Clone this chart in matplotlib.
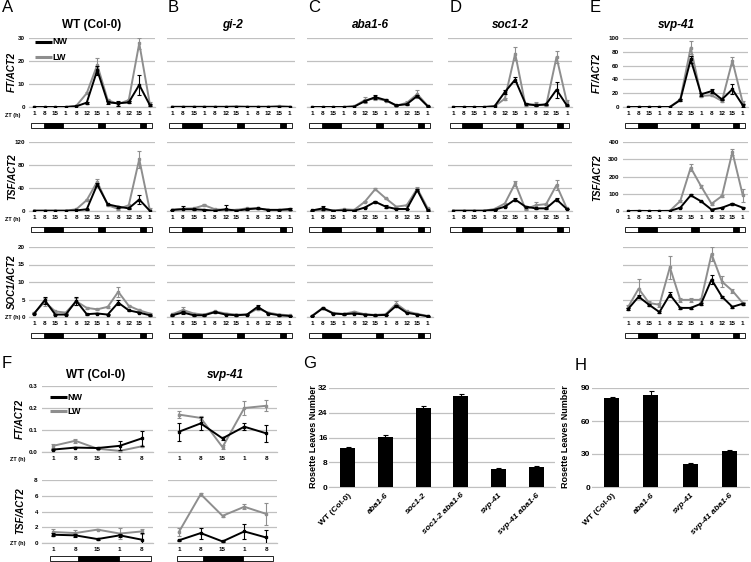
import numpy as np
import matplotlib
matplotlib.use('Agg')
import matplotlib.pyplot as plt
from matplotlib.patches import Rectangle
from matplotlib.lines import Line2D

plt.rcParams['font.family'] = ['Liberation Sans', 'DejaVu Sans']
plt.rcParams['font.weight'] = 'bold'

GREY = '#8E8E8E'
GRID = '#C0C0C0'

# ---- data ----
ZT = ['1', '8', '15', '1', '8', '12', '15', '1', '8', '12', '15', '1']
ZT_F = ['1', '8', '15', '1', '8']

# A  WT (Col-0)
A_FT_NW = [0, 0, 0, 0, 0.3, 1.9, 16, 2.0, 1.6, 2.0, 9.6, 0.9]
A_FT_NW_ERR = [0, 0, 0, 0, 0, 0.4, 2, 0.5, 1.2, 0.4, 4.3, 0.3]
A_FT_LW = [0, 0, 0, 0, 0.5, 6, 18.3, 3, 1.3, 3, 27.7, 1.5]
A_FT_LW_ERR = [0, 0, 0, 0, 0, 0.5, 3, 0.5, 0.8, 0.5, 2.5, 0.5]
A_TSF_NW = [0.5, 0.5, 0.5, 0.5, 1, 3, 46, 11.6, 7.5, 4.6, 20, 0.5]
A_TSF_NW_ERR = [0, 0, 0, 0, 0, 0.5, 3, 1, 1.5, 0.5, 8, 0]
A_TSF_LW = [0.5, 0.5, 0.5, 0.5, 3, 19, 51, 10, 3.5, 10, 90, 2]
A_TSF_LW_ERR = [0, 0, 0, 0, 0, 1.5, 4, 1, 1, 1, 15, 3]
A_SOC_NW = [1.0, 4.8, 0.7, 0.7, 4.6, 0.8, 1.0, 0.7, 4.1, 1.9, 1.25, 0.5]
A_SOC_NW_ERR = [0.2, 1.0, 0.1, 0.1, 1.2, 0.1, 0.1, 0.1, 0.8, 0.2, 0.2, 0.1]
A_SOC_LW = [1.15, 4.3, 1.6, 1.25, 4.5, 2.6, 2.2, 2.9, 7.2, 3.2, 1.9, 1.0]
A_SOC_LW_ERR = [0.2, 1.2, 0.2, 0.2, 1.0, 0.2, 0.2, 0.3, 1.5, 0.3, 0.3, 0.1]

# B  gi-2
B_FT_NW = [0.05, 0.05, 0.05, 0.05, 0.05, 0.05, 0.1, 0.05, 0.05, 0.05, 0.1, 0.05]
B_FT_NW_ERR = [0, 0, 0, 0, 0, 0, 0, 0, 0, 0, 0, 0]
B_FT_LW = [0.1, 0.1, 0.1, 0.1, 0.1, 0.1, 0.2, 0.1, 0.1, 0.1, 0.4, 0.1]
B_FT_LW_ERR = [0, 0, 0, 0, 0, 0, 0, 0, 0, 0, 0.2, 0]
B_TSF_NW = [2, 3, 3, 2, 0.5, 3, 0.5, 3, 4.6, 2, 2, 3.5]
B_TSF_NW_ERR = [0.5, 6, 1, 0.5, 0.5, 8, 0.5, 1, 1, 0.5, 0.5, 2]
B_TSF_LW = [2, 4, 4.6, 10, 3, 2, 2, 4.6, 4.6, 2, 0.5, 2]
B_TSF_LW_ERR = [0.5, 1, 1, 2, 0.5, 0.5, 0.5, 1, 1, 0.5, 0.5, 0.5]
B_SOC_NW = [0.5, 1.3, 0.5, 0.5, 1.4, 0.7, 0.5, 0.7, 2.9, 1.0, 0.5, 0.3]
B_SOC_NW_ERR = [0.1, 0.5, 0.1, 0.1, 0.2, 0.1, 0.1, 0.1, 0.5, 0.1, 0.1, 0.1]
B_SOC_LW = [0.8, 2.0, 1.0, 0.7, 1.6, 1.0, 0.7, 0.7, 2.4, 1.25, 0.7, 0.5]
B_SOC_LW_ERR = [0.1, 0.8, 0.2, 0.1, 0.2, 0.1, 0.1, 0.1, 0.3, 0.1, 0.1, 0.1]

# C  aba1-6
C_FT_NW = [0, 0, 0, 0, 0.2, 2.5, 4.3, 3.0, 0.7, 1.2, 4.8, 0.3]
C_FT_NW_ERR = [0, 0, 0, 0, 0, 0.4, 0.8, 0.3, 0.2, 0.2, 0.6, 0.1]
C_FT_LW = [0, 0, 0, 0, 0.3, 3.0, 3.7, 2.8, 0.6, 1.8, 5.6, 0.5]
C_FT_LW_ERR = [0, 0, 0, 0, 0, 1.3, 0.6, 0.3, 0.2, 0.6, 1.6, 0.1]
C_TSF_NW = [1, 4.6, 0.5, 1, 0.5, 6, 16, 7.5, 3.5, 3.5, 36.5, 1]
C_TSF_NW_ERR = [0.3, 3.5, 0.2, 0.3, 0.2, 0.5, 2, 3, 0.5, 0.5, 2, 0.2]
C_TSF_LW = [0.5, 2, 0.5, 3, 2, 16, 38, 22, 7.5, 10, 39, 4.6]
C_TSF_LW_ERR = [0.2, 0.5, 0.2, 0.5, 0.3, 1, 2, 1, 1, 1, 3, 0.5]
C_SOC_NW = [0.3, 2.5, 1.0, 0.8, 1.0, 0.7, 0.5, 0.6, 3.2, 1.2, 0.7, 0.2]
C_SOC_NW_ERR = [0.1, 0.2, 0.1, 0.1, 0.1, 0.1, 0.1, 0.1, 0.3, 0.1, 0.1, 0.1]
C_SOC_LW = [0.4, 2.6, 1.1, 0.9, 1.5, 0.8, 0.6, 0.8, 3.8, 1.6, 0.9, 0.3]
C_SOC_LW_ERR = [0.1, 0.2, 0.1, 0.1, 0.2, 0.1, 0.1, 0.1, 0.7, 0.1, 0.1, 0.1]

# D  soc1-2
D_FT_NW = [0, 0, 0, 0, 0.3, 6.5, 11.9, 1.4, 0.7, 1.2, 7.5, 0.7]
D_FT_NW_ERR = [0, 0, 0, 0, 0, 1.0, 1.0, 0.3, 0.2, 0.2, 3.4, 0.2]
D_FT_LW = [0, 0, 0, 0, 0.3, 3.6, 23.2, 0.7, 1.2, 0.7, 21.7, 2.2]
D_FT_LW_ERR = [0, 0, 0, 0, 0, 0.5, 2.8, 0.2, 0.8, 0.2, 2.5, 1.0]
D_TSF_NW = [0.5, 0.5, 0.5, 0.5, 2, 7.5, 20, 7.5, 4.6, 4.6, 20, 3.5]
D_TSF_NW_ERR = [0, 0, 0, 0, 0.3, 1, 3, 1, 0.5, 0.5, 2, 0.5]
D_TSF_LW = [0.5, 0.5, 0.5, 0.5, 3.5, 13, 48, 3, 10, 12, 45, 4.6]
D_TSF_LW_ERR = [0, 0, 0, 0, 0.5, 1, 5, 0.5, 5, 1, 9, 1]

# E  svp-41
E_FT_NW = [0, 0, 0, 0, 0, 10, 69, 18.4, 23, 11, 25.7, 2.4]
E_FT_NW_ERR = [0, 0, 0, 0, 0, 1, 5, 2, 3, 1, 7, 2]
E_FT_LW = [0, 0, 0, 0, 0, 11, 86, 16, 17, 8.7, 67, 6]
E_FT_LW_ERR = [0, 0, 0, 0, 0, 1, 9, 1.5, 1.5, 1, 6, 3]
E_TSF_NW = [0, 0, 0, 0, 0.5, 19, 91, 56, 8, 19, 42, 19]
E_TSF_NW_ERR = [0, 0, 0, 0, 0, 2, 5, 4, 2, 2, 5, 3]
E_TSF_LW = [0, 1.5, 0, 0.5, 1, 58, 251, 143, 42, 87, 342, 91]
E_TSF_LW_ERR = [0, 1, 0, 0, 0, 3, 20, 10, 5, 5, 18, 38]
E_SOC_NW = [2.3, 5.8, 3.5, 1.4, 6.4, 2.6, 2.6, 3.8, 10.7, 5.8, 2.9, 3.8]
E_SOC_NW_ERR = [0.3, 0.5, 0.3, 0.3, 0.7, 0.3, 0.3, 0.3, 1.3, 0.3, 0.3, 0.3]
E_SOC_LW = [2.9, 8.1, 4.0, 3.5, 14.2, 4.9, 4.9, 4.9, 18.0, 10.1, 7.5, 4.0]
E_SOC_LW_ERR = [0.4, 2.7, 0.5, 0.5, 3.3, 0.5, 0.5, 0.5, 2.0, 1.5, 0.5, 0.3]

# F  short time course
F_WT_FT_NW = [0.011, 0.02, 0.018, 0.028, 0.062]
F_WT_FT_NW_ERR = [0.003, 0.004, 0.003, 0.02, 0.033]
F_WT_FT_LW = [0.028, 0.051, 0.015, 0.005, 0.026]
F_WT_FT_LW_ERR = [0.008, 0.009, 0.003, 0.003, 0.003]
F_SVP_FT_NW = [0.092, 0.13, 0.062, 0.115, 0.085]
F_SVP_FT_NW_ERR = [0.04, 0.03, 0.006, 0.015, 0.04]
F_SVP_FT_LW = [0.17, 0.155, 0.022, 0.2, 0.21]
F_SVP_FT_LW_ERR = [0.015, 0.01, 0.008, 0.03, 0.025]
F_WT_TSF_NW = [1.05, 0.97, 0.5, 0.97, 0.42]
F_WT_TSF_NW_ERR = [0.2, 0.2, 0.1, 0.2, 0.8]
F_WT_TSF_LW = [1.4, 1.26, 1.7, 1.2, 1.47]
F_WT_TSF_LW_ERR = [0.4, 0.4, 0.1, 0.7, 0.3]
F_SVP_TSF_NW = [0.34, 1.26, 0.2, 1.47, 0.7]
F_SVP_TSF_NW_ERR = [0.05, 0.7, 0.05, 0.9, 1.0]
F_SVP_TSF_LW = [1.4, 6.2, 3.45, 4.6, 3.7]
F_SVP_TSF_LW_ERR = [0.5, 0.2, 0.1, 0.3, 1.4]

# G / H  flowering time
G_LINES = ['WT (Col-0)', 'aba1-6', 'soc1-2', 'soc1-2 aba1-6', 'svp-41', 'svp-41 aba1-6']
G_LEAVES = [12.5, 16.3, 25.5, 29.5, 5.7, 6.4]
G_ERR = [0.5, 0.4, 0.8, 0.6, 0.3, 0.3]
H_LINES = ['WT (Col-0)', 'aba1-6', 'svp-41', 'svp-41 aba1-6']
H_LEAVES = [81, 84, 20.5, 32.5]
H_ERR = [1, 3, 1, 1.2]

# ---- layout helpers (pixel coordinates, origin top-left) ----
W, H = 751, 562
fig = plt.figure(figsize=(W / 100, H / 100), dpi=100)


def box(l, t, r, b):
    return fig.add_axes([l / W, 1 - b / H, (r - l) / W, (b - t) / H])


def ftext(x, y, s, **kw):
    fig.text(x / W, 1 - y / H, s, **kw)


def fline(x0, x1, y, color):
    fig.add_artist(Line2D([x0 / W, x1 / W], [1 - y / H, 1 - y / H], color=color,
                          lw=2.2, solid_capstyle='butt'))


def series(ax, vals, errs, color, z):
    x = np.arange(len(vals))
    ax.plot(x, vals, color=color, lw=1.4, marker='s', ms=1.8, zorder=z)
    e = np.array(errs, dtype=float)
    m = e > 0
    if m.any():
        ax.errorbar(x[m], np.array(vals)[m], yerr=e[m], fmt='none', ecolor=color,
                    elinewidth=0.8, capsize=1.3, capthick=0.8, zorder=z)


def timecourse(l, t, r, b, nw, nw_e, lw, lw_e, ymax, step, ylabels=True,
               fmt='{:g}', labels=ZT):
    ax = box(l, t, r, b)
    series(ax, lw, lw_e, GREY, 3)
    series(ax, nw, nw_e, 'black', 4)
    n = len(nw)
    ax.set_xlim(-0.5, n - 0.5)
    ax.set_ylim(0, ymax)
    ticks = np.arange(0, ymax + step / 2, step)
    ax.set_yticks(ticks)
    ax.set_yticklabels([fmt.format(v) for v in ticks] if ylabels else [])
    ax.set_xticks(np.arange(n))
    ax.set_xticklabels(labels)
    ax.grid(axis='y', color=GRID, lw=0.9)
    ax.set_axisbelow(True)
    for s in ('top', 'right', 'left'):
        ax.spines[s].set_visible(False)
    ax.spines['bottom'].set_color(GRID)
    ax.spines['bottom'].set_linewidth(0.9)
    ax.tick_params(length=0, labelsize=4.5, pad=3)
    return ax


def daynight(l, r, top, n, start, end, nights):
    bx = box(l, top, r, top + 5)
    bx.set_xlim(-0.5, n - 0.5)
    bx.set_ylim(0, 1)
    bx.axis('off')
    bx.add_patch(Rectangle((start, 0), end - start, 1, facecolor='white',
                           edgecolor='black', lw=0.6, clip_on=False))
    for a, z in nights:
        bx.add_patch(Rectangle((a, 0), z - a, 1, facecolor='black',
                               edgecolor='black', lw=0.6, clip_on=False))


NIGHTS = [(0.9, 2.75), (6.05, 6.75), (10.05, 10.65)]
NIGHTS_F = [(1.1, 2.95)]

cols = {'A': (29, 155), 'B': (167, 295), 'C': (307, 433), 'D': (448, 572), 'E': (623, 748)}
rows = {'FT': (38, 107), 'TSF': (142, 211), 'SOC': (247, 317)}

panels = {
    'A': [('FT', A_FT_NW, A_FT_NW_ERR, A_FT_LW, A_FT_LW_ERR, 30, 10, True),
          ('TSF', A_TSF_NW, A_TSF_NW_ERR, A_TSF_LW, A_TSF_LW_ERR, 120, 40, True),
          ('SOC', A_SOC_NW, A_SOC_NW_ERR, A_SOC_LW, A_SOC_LW_ERR, 20, 5, True)],
    'B': [('FT', B_FT_NW, B_FT_NW_ERR, B_FT_LW, B_FT_LW_ERR, 30, 10, False),
          ('TSF', B_TSF_NW, B_TSF_NW_ERR, B_TSF_LW, B_TSF_LW_ERR, 120, 40, False),
          ('SOC', B_SOC_NW, B_SOC_NW_ERR, B_SOC_LW, B_SOC_LW_ERR, 20, 5, False)],
    'C': [('FT', C_FT_NW, C_FT_NW_ERR, C_FT_LW, C_FT_LW_ERR, 30, 10, False),
          ('TSF', C_TSF_NW, C_TSF_NW_ERR, C_TSF_LW, C_TSF_LW_ERR, 120, 40, False),
          ('SOC', C_SOC_NW, C_SOC_NW_ERR, C_SOC_LW, C_SOC_LW_ERR, 20, 5, False)],
    'D': [('FT', D_FT_NW, D_FT_NW_ERR, D_FT_LW, D_FT_LW_ERR, 30, 10, False),
          ('TSF', D_TSF_NW, D_TSF_NW_ERR, D_TSF_LW, D_TSF_LW_ERR, 120, 40, False)],
    'E': [('FT', E_FT_NW, E_FT_NW_ERR, E_FT_LW, E_FT_LW_ERR, 100, 20, True),
          ('TSF', E_TSF_NW, E_TSF_NW_ERR, E_TSF_LW, E_TSF_LW_ERR, 400, 100, True),
          ('SOC', E_SOC_NW, E_SOC_NW_ERR, E_SOC_LW, E_SOC_LW_ERR, 20, 5, False)],
}

for key, plist in panels.items():
    l, r = cols[key]
    for row, nw, nwe, lw, lwe, ymax, step, yl in plist:
        t, b = rows[row]
        timecourse(l, t, r, b, nw, nwe, lw, lwe, ymax, step, ylabels=yl)
        daynight(l, r, b + 16, 12, -0.32, 11.25, NIGHTS)

# titles and letters for A-E
titles = [('A', 2, 92, 'WT (Col-0)', 'normal'), ('B', 168, 232, 'gi-2', 'italic'),
          ('C', 308, 370, 'aba1-6', 'italic'), ('D', 450, 510, 'soc1-2', 'italic'),
          ('E', 590, 676, 'svp-41', 'italic')]
for letter, lx, tx, title, style in titles:
    ftext(lx, 8, letter, fontsize=12, fontweight='normal', va='center', ha='left')
    ftext(tx, 25, title, fontsize=8.5, style=style, va='center', ha='center')

# y labels
for x, y, s in [(12, 72, 'FT/ACT2'), (12, 177, 'TSF/ACT2'), (12, 282, 'SOC1/ACT2'),
                (597, 73, 'FT/ACT2'), (597, 178, 'TSF/ACT2'),
                (20, 419, 'FT/ACT2'), (20, 511, 'TSF/ACT2')]:
    ftext(x, y, s, fontsize=7, style='italic', rotation=90, va='center', ha='center')

for y in (115, 219, 317, 460, 543):
    ftext(13 if y < 400 else 18, y, 'ZT (h)', fontsize=4, va='center', ha='center')

# legend A
fline(35, 52, 42, 'black')
ftext(52, 42, 'NW', fontsize=6.5, va='center', ha='left')
fline(35, 52, 57, GREY)
ftext(52, 57, 'LW', fontsize=6.5, va='center', ha='left')

# ---- F ----
ftext(2, 363, 'F', fontsize=12, fontweight='normal', va='center', ha='left')
ftext(96, 375, 'WT (Col-0)', fontsize=8.5, va='center', ha='center')
ftext(225, 375, 'svp-41', fontsize=8.5, style='italic', va='center', ha='center')

timecourse(42, 386, 153, 452, F_WT_FT_NW, F_WT_FT_NW_ERR, F_WT_FT_LW, F_WT_FT_LW_ERR,
           0.3, 0.1, fmt='{:.1f}', labels=ZT_F)
timecourse(168, 386, 277, 452, F_SVP_FT_NW, F_SVP_FT_NW_ERR, F_SVP_FT_LW, F_SVP_FT_LW_ERR,
           0.3, 0.1, ylabels=False, labels=ZT_F)
timecourse(42, 480, 153, 543, F_WT_TSF_NW, F_WT_TSF_NW_ERR, F_WT_TSF_LW, F_WT_TSF_LW_ERR,
           8, 2, labels=ZT_F)
timecourse(168, 480, 277, 543, F_SVP_TSF_NW, F_SVP_TSF_NW_ERR, F_SVP_TSF_LW, F_SVP_TSF_LW_ERR,
           8, 2, ylabels=False, labels=ZT_F)
daynight(42, 153, 556, 5, -0.12, 4.4, NIGHTS_F)
daynight(168, 277, 556, 5, -0.1, 4.3, NIGHTS_F)

fline(50, 67, 397, 'black')
ftext(67, 397, 'NW', fontsize=6.5, va='center', ha='left')
fline(50, 67, 411, GREY)
ftext(67, 411, 'LW', fontsize=6.5, va='center', ha='left')


# ---- G / H ----
def leafbars(l, t, r, b, names, vals, errs, ymax, step, width):
    ax = box(l, t, r, b)
    x = np.arange(len(vals))
    ax.bar(x, vals, width=width, color='black', zorder=3)
    ax.errorbar(x, vals, yerr=errs, fmt='none', ecolor='black', elinewidth=0.8,
                capsize=1.8, capthick=0.8, zorder=4)
    ax.set_xlim(-0.5, len(vals) - 0.5)
    ax.set_ylim(0, ymax)
    ax.set_yticks(np.arange(0, ymax + step / 2, step))
    ax.grid(axis='y', color=GRID, lw=0.9)
    ax.set_axisbelow(True)
    for s in ('top', 'right', 'left'):
        ax.spines[s].set_visible(False)
    ax.spines['bottom'].set_color(GRID)
    ax.tick_params(axis='y', length=0, labelsize=6, pad=1)
    ax.tick_params(axis='x', length=0, labelsize=6, pad=3.5)
    ax.set_xticks(x)
    ax.set_xticklabels(names, rotation=45, ha='right', rotation_mode='anchor', fontsize=6)
    for lab in ax.get_xticklabels():
        if not lab.get_text().startswith('WT'):
            lab.set_style('italic')
    return ax


ftext(303, 364, 'G', fontsize=12, fontweight='normal', va='center', ha='left')
leafbars(329, 388, 555, 487, G_LINES, G_LEAVES, G_ERR, 32, 8, 0.4)
ftext(313, 437, 'Rosette Leaves Number', fontsize=6.5, rotation=90, va='center', ha='center')

ftext(575, 365, 'H', fontsize=12, fontweight='normal', va='center', ha='left')
leafbars(592, 388, 749, 487, H_LINES, H_LEAVES, H_ERR, 90, 30, 0.38)
ftext(565, 437, 'Rosette Leaves Number', fontsize=6.5, rotation=90, va='center', ha='center')

fig.savefig('out.png', dpi=100)
